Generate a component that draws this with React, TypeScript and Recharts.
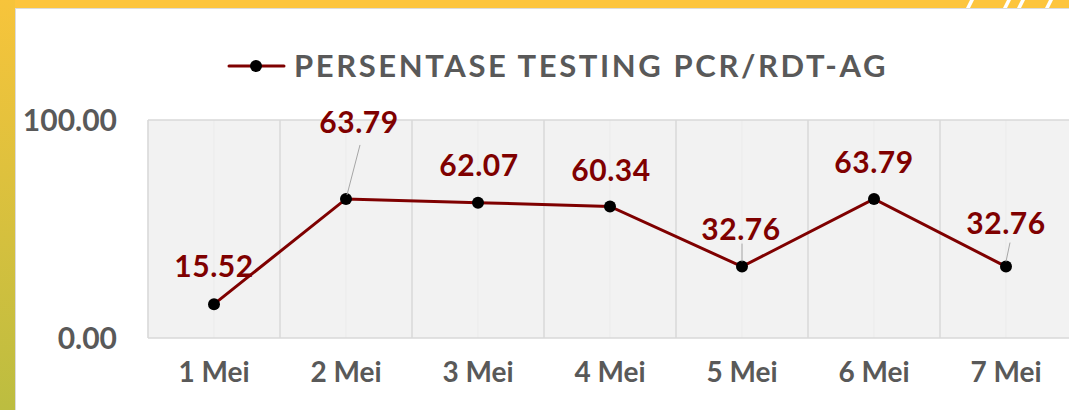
import { LineChart, Line, XAxis, YAxis, CartesianGrid, Legend, LabelList, ReferenceLine } from 'recharts';

const days = ['1 Mei', '2 Mei', '3 Mei', '4 Mei', '5 Mei', '6 Mei', '7 Mei'];
const persentase = [15.52, 63.79, 62.07, 60.34, 32.76, 63.79, 32.76];
const yTicks = [0, 100];
const seriesName = 'PERSENTASE TESTING PCR/RDT-AG';

// label offsets from each point (px) and which labels get a leader line
const labelDx = [0, 13, 1, 1, -1, 0, 0];
const labelDy = [-39, -78, -39, -37, -39, -38, -45];
const leaders: Record<number, [number, number, number, number]> = {
  1: [14, -54, 1, -4],
  4: [0, -23, 0, -5],
  6: [4, -24, 0, -5],
};

const data = days.map((d, i) => ({ name: d, value: persentase[i] }));

const FONT = 'Lato, "DejaVu Sans", sans-serif';
const GREY = '#595959';
const RED = '#7f0000';

function PointLabel(props: any) {
  const { x, y, value, index } = props;
  const lx = x + labelDx[index];
  const ly = y + labelDy[index];
  const l = leaders[index];
  return (
    <g>
      {l && <line x1={x + l[0]} y1={y + l[1]} x2={x + l[2]} y2={y + l[3]} stroke="#a6a6a6" strokeWidth={1} />}
      <text
        x={lx}
        y={ly}
        textAnchor="middle"
        dominantBaseline="central"
        fill={RED}
        fontSize={30}
        fontWeight={700}
        fontFamily={FONT}
        letterSpacing={0.6}
      >
        {Number(value).toFixed(2)}
      </text>
    </g>
  );
}

function LegendBox() {
  return (
    <div style={{ height: 50, display: 'flex', alignItems: 'center', justifyContent: 'center', paddingLeft: 45 }}>
      <svg width={62} height={20} style={{ marginRight: 6 }}>
        <line x1={3} y1={10} x2={58} y2={10} stroke={RED} strokeWidth={3} strokeLinecap="round" />
        <circle cx={30} cy={10} r={6} fill="#000" />
      </svg>
      <span style={{ fontFamily: FONT, fontWeight: 700, fontSize: 31, letterSpacing: 2.6, color: GREY, lineHeight: '50px', marginTop: -3 }}>
        {seriesName}
      </span>
    </div>
  );
}

export default function App() {
  return (
    <div style={{ position: 'fixed', left: 0, top: 0, width: 1069, height: 410, overflow: 'hidden', background: '#fff' }}>
      {/* frame */}
      <div style={{ position: 'absolute', left: 0, top: 0, width: 1069, height: 8, background: '#fdc53e' }} />
      <div style={{ position: 'absolute', left: 0, top: 0, width: 15, height: 410, background: 'linear-gradient(#f7c43b, #bcbd40)' }} />
      <div style={{ position: 'absolute', left: 15, top: 8, width: 1054, height: 402, borderLeft: '1px solid #dcdcdc', borderTop: '1px solid #dcdcdc', boxSizing: 'border-box' }} />
      <svg style={{ position: 'absolute', left: 0, top: 0 }} width={1069} height={8}>
        {[966, 1003, 1017, 1045].map((sx) => (
          <polygon key={sx} points={`${sx},8 ${sx + 4},8 ${sx + 8},0 ${sx + 4},0`} fill="#fff" />
        ))}
      </svg>
      <div style={{ position: 'absolute', left: 0, top: 0 }}>
        <LineChart width={1100} height={410} data={data} margin={{ top: 70, right: 28, bottom: 22, left: 0 }}>
          <CartesianGrid fill="#f2f2f2" horizontal={false} stroke="#ebebeb" />
          <CartesianGrid
            horizontal={false}
            stroke="#d9d9d9"
            strokeWidth={1.5}
            verticalCoordinatesGenerator={({ offset }: any) =>
              Array.from({ length: days.length + 1 }, (_, i) => offset.left + (i * offset.width) / days.length)
            }
          />
          <ReferenceLine y={100} stroke="#d9d9d9" strokeWidth={1.5} />
          <XAxis
            dataKey="name"
            scale="band"
            axisLine={{ stroke: '#d9d9d9', strokeWidth: 1.5 }}
            tickLine={false}
            tickMargin={18}
            height={50}
            tick={{ fill: GREY, fontSize: 28, fontWeight: 700, fontFamily: FONT }}
          />
          <YAxis
            domain={[0, 100]}
            ticks={yTicks}
            width={148}
            axisLine={false}
            tickLine={false}
            tickMargin={25}
            tickFormatter={(v: number) => v.toFixed(2)}
            tick={{ fill: GREY, fontSize: 30, fontWeight: 700, fontFamily: FONT }}
          />
          <Legend verticalAlign="top" content={() => <LegendBox />} wrapperStyle={{ top: 41, left: 0, width: 1069 }} />
          <Line
            type="linear"
            dataKey="value"
            name={seriesName}
            stroke={RED}
            strokeWidth={3}
            dot={{ r: 6, fill: '#000', stroke: '#000', strokeWidth: 0 }}
            isAnimationActive={false}
          >
            <LabelList dataKey="value" content={PointLabel} />
          </Line>
        </LineChart>
      </div>
    </div>
  );
}
